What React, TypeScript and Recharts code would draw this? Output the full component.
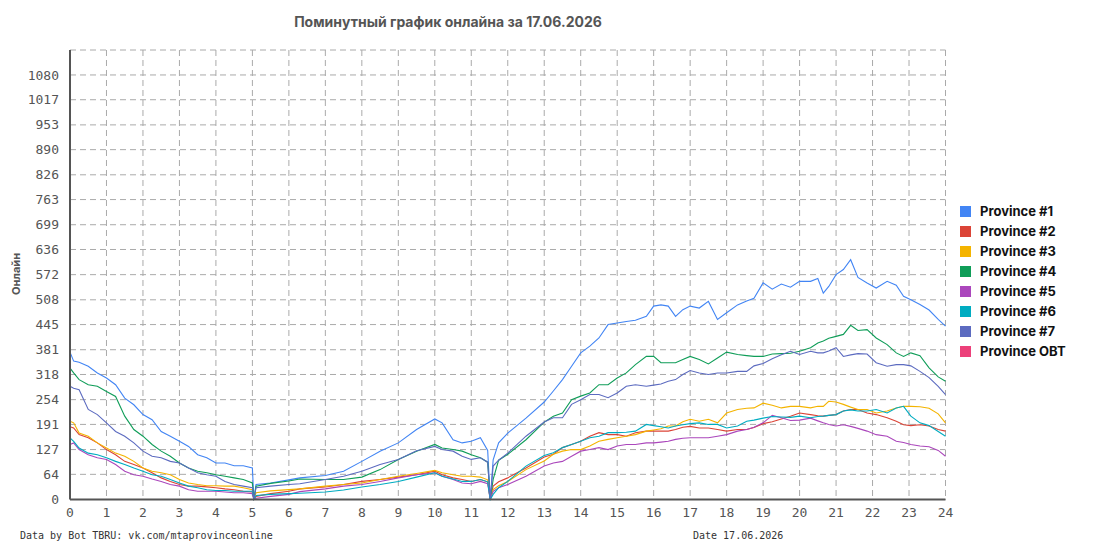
import React from "react";
import { LineChart, Line, XAxis, YAxis, CartesianGrid } from "recharts";

const hours = [0, 0.1, 0.25, 0.5, 0.75, 1, 1.25, 1.5, 1.75, 2, 2.25, 2.5, 2.75, 3, 3.25, 3.5, 3.75, 4, 4.25, 4.5, 4.75, 5,
  5.04, 5.1, 5.5, 6, 6.3,
  7, 7.5, 8, 8.5, 9, 9.5, 10, 10.2, 10.5, 10.75, 11, 11.25, 11.45, 11.52, 11.6, 11.75, 12, 12.5,
  13, 13.25, 13.5, 13.75, 14, 14.25, 14.5, 14.75, 15, 15.25, 15.5, 15.8,
  16, 16.2, 16.4, 16.6, 16.8, 17, 17.25, 17.5, 17.75, 18,
  18.3, 18.55, 18.75, 19, 19.25, 19.5, 19.75, 20,
  20.3, 20.5, 20.65, 20.8, 21, 21.2, 21.4, 21.6, 21.85, 22.1, 22.4, 22.65, 22.85, 23.05, 23.3, 23.55, 23.8, 24];

const province1 = [375, 352, 349, 339, 322, 309, 292, 258, 241, 216, 203, 173, 161, 148, 135, 114, 106, 93, 93, 86, 86, 80,
  0, 38, 42, 50, 55,
  61, 72, 97, 123, 144, 178, 205, 195, 152, 144, 148, 157, 125, 0, 101, 144, 169, 207,
  248, 276, 305, 339, 373, 390, 411, 445, 449, 453, 456, 466,
  492, 495, 492, 466, 483, 492, 487, 504, 458, 475,
  495, 505, 512, 551, 535, 548, 540, 555,
  555, 562, 525, 542, 572, 585, 610, 565, 551, 538, 555, 545, 517, 508, 496, 482, 458, 441];

const province2 = [185, 182, 165, 157, 144, 127, 114, 97, 89, 80, 68, 55, 46, 38, 34, 34, 32, 30, 27, 25, 21, 19,
  0, 8, 15, 21, 27,
  32, 38, 46, 51, 57, 63, 72, 63, 55, 51, 46, 51, 45, 0, 34, 45, 55, 80,
  108, 115, 132, 140, 148, 161, 170, 165, 165, 161, 170, 174,
  174, 174, 174, 178, 184, 186, 182, 182, 178, 174,
  178, 178, 183, 193, 198, 205, 212, 220,
  216, 213, 212, 214, 216, 225, 229, 229, 220, 216, 208, 199, 190, 188, 190, 187, 178, 174];

const province3 = [199, 195, 169, 161, 144, 131, 118, 110, 97, 80, 72, 68, 63, 51, 42, 38, 35, 35, 34, 34, 30, 25,
  0, 17, 22, 25, 27,
  34, 38, 42, 51, 59, 66, 74, 68, 63, 59, 59, 57, 50, 0, 25, 35, 46, 76,
  98, 115, 123, 127, 127, 136, 148, 153, 157, 161, 165, 174,
  177, 180, 187, 187, 198, 204, 199, 204, 195, 220,
  229, 232, 233, 245, 240, 233, 237, 237,
  233, 237, 237, 250, 248, 242, 235, 229, 229, 220, 225, 233, 237, 237, 236, 232, 218, 195];

const province4 = [334, 322, 305, 292, 288, 275, 262, 212, 178, 161, 140, 123, 110, 93, 80, 72, 68, 63, 59, 55, 51, 42,
  0, 34, 41, 47, 52,
  51, 51, 57, 76, 102, 123, 140, 131, 127, 123, 114, 106, 95, 0, 51, 100, 115, 152,
  197, 212, 220, 254, 263, 271, 292, 292, 309, 322, 343, 364,
  364, 348, 348, 348, 356, 364, 356, 345, 360, 375,
  369, 366, 364, 364, 370, 371, 372, 377,
  386, 398, 403, 410, 415, 420, 443, 430, 432, 411, 394, 373, 364, 373, 366, 335, 312, 301];

const province5 = [140, 144, 127, 114, 106, 102, 89, 72, 63, 59, 52, 46, 38, 34, 25, 21, 21, 21, 19, 17, 17, 15,
  0, 3, 8, 13, 20,
  27, 34, 38, 46, 55, 63, 68, 59, 51, 42, 40, 46, 40, 0, 21, 30, 38, 59,
  85, 93, 97, 110, 123, 127, 132, 127, 136, 140, 140, 144,
  144, 146, 148, 153, 156, 157, 157, 157, 161, 165,
  174, 178, 184, 195, 214, 208, 201, 202,
  207, 200, 195, 191, 187, 190, 186, 181, 174, 165, 161, 148, 145, 140, 136, 134, 125, 110];

const province6 = [157, 148, 131, 118, 114, 106, 97, 89, 80, 72, 63, 59, 51, 42, 34, 30, 25, 23, 23, 21, 21, 21,
  0, 10, 13, 15, 16,
  19, 24, 32, 38, 46, 57, 68, 59, 52, 46, 46, 51, 45, 0, 13, 30, 46, 85,
  112, 119, 132, 140, 148, 157, 161, 170, 170, 171, 174, 191,
  188, 185, 182, 187, 190, 193, 195, 191, 191, 182,
  187, 199, 202, 207, 211, 210, 209, 212,
  208, 211, 212, 214, 216, 225, 228, 225, 225, 229, 220, 233, 237, 212, 195, 188, 173, 161];

const province7 = [288, 283, 279, 229, 216, 195, 173, 161, 144, 123, 110, 106, 97, 93, 80, 68, 63, 59, 46, 38, 34, 30,
  0, 30, 34, 38, 40,
  51, 59, 72, 89, 102, 124, 135, 127, 123, 110, 102, 106, 95, 0, 85, 100, 118, 161,
  197, 208, 208, 242, 254, 267, 267, 259, 271, 288, 292, 288,
  291, 294, 301, 305, 318, 328, 322, 318, 322, 322,
  326, 326, 340, 346, 358, 368, 377, 369,
  377, 373, 373, 378, 386, 364, 368, 371, 370, 348, 339, 343, 343, 340, 326, 310, 288, 267];

const provinceOBT: (number | null)[] = [];

const yTicks = [0, 64, 127, 191, 254, 318, 381, 445, 508, 572, 636, 699, 763, 826, 890, 953, 1017, 1080];
const xTicks = [0, 1, 2, 3, 4, 5, 6, 7, 8, 9, 10, 11, 12, 13, 14, 15, 16, 17, 18, 19, 20, 21, 22, 23, 24];

const series = [
  { key: "p1", name: "Province #1", color: "#4285f4", values: province1 },
  { key: "p2", name: "Province #2", color: "#db4437", values: province2 },
  { key: "p3", name: "Province #3", color: "#f4b400", values: province3 },
  { key: "p4", name: "Province #4", color: "#0f9d58", values: province4 },
  { key: "p5", name: "Province #5", color: "#ab47bc", values: province5 },
  { key: "p6", name: "Province #6", color: "#00acc1", values: province6 },
  { key: "p7", name: "Province #7", color: "#5c6bc0", values: province7 },
  { key: "pobt", name: "Province OBT", color: "#ec407a", values: provinceOBT },
];

const data = hours.map((h, i) => {
  const row: Record<string, number | null> = { h };
  series.forEach((s) => {
    row[s.key] = s.values[i] ?? null;
  });
  return row;
});

const tickFont = { fontFamily: "'DejaVu Sans Mono', monospace", fontSize: 13, fill: "#555" };

export default function App() {
  return (
    <div style={{ position: "relative", width: 1080, height: 540, background: "#fff" }}>
      <LineChart
        width={1080}
        height={540}
        data={data}
        margin={{ top: 42, right: 142.5, bottom: 18.5, left: 0 }}
      >
        <CartesianGrid stroke="#aaa" strokeDasharray="6 4" />
        <XAxis
          dataKey="h"
          type="number"
          domain={[0, 24]}
          ticks={xTicks}
          interval={0}
          height={30}
          tickLine={false}
          tickSize={0}
          tickMargin={8}
          axisLine={{ stroke: "#555", strokeWidth: 2 }}
          tick={tickFont}
        />
        <XAxis
          xAxisId="top"
          orientation="top"
          dataKey="h"
          type="number"
          domain={[0, 24]}
          height={0}
          tick={false}
          tickLine={false}
          axisLine={{ stroke: "#555", strokeWidth: 1.5 }}
        />
        <YAxis
          type="number"
          domain={[0, 1143.5]}
          ticks={yTicks}
          interval={0}
          width={62}
          tickLine={false}
          tickSize={0}
          tickMargin={11}
          axisLine={{ stroke: "#555", strokeWidth: 2 }}
          tick={tickFont}
        />
        <YAxis
          yAxisId="right"
          orientation="right"
          type="number"
          domain={[0, 1143.5]}
          width={0}
          tick={false}
          tickLine={false}
          axisLine={{ stroke: "#555", strokeWidth: 1.5 }}
        />
        {series.map((s) => (
          <Line
            key={s.key}
            dataKey={s.key}
            name={s.name}
            stroke={s.color}
            strokeWidth={1.1}
            dot={false}
            type="linear"
            isAnimationActive={false}
            connectNulls={false}
          />
        ))}
      </LineChart>

      <div
        style={{
          position: "absolute",
          left: 440,
          top: 5,
          transform: "translateX(-50%)",
          whiteSpace: "nowrap",
          fontFamily: "Inter, 'Noto Sans', sans-serif",
          fontWeight: 700,
          fontSize: 14,
          color: "#555",
        }}
      >
        Поминутный график онлайна за 17.06.2026
      </div>

      <div
        style={{
          position: "absolute",
          left: 8,
          top: 266,
          transform: "translate(-50%, -50%) rotate(-90deg)",
          whiteSpace: "nowrap",
          fontFamily: "Inter, 'Noto Sans', sans-serif",
          fontWeight: 700,
          fontSize: 11,
          color: "#555",
        }}
      >
        Онлайн
      </div>

      <div style={{ position: "absolute", left: 952, top: 193 }}>
        {series.map((s) => (
          <div key={s.key} style={{ display: "flex", alignItems: "center", height: 20 }}>
            <div style={{ width: 11, height: 11, background: s.color, marginRight: 9 }} />
            <span
              style={{
                fontFamily: "Inter, 'Noto Sans', sans-serif",
                fontWeight: 700,
                fontSize: 13,
                color: "#111",
                whiteSpace: "nowrap",
              }}
            >
              {s.name}
            </span>
          </div>
        ))}
      </div>

      <div
        style={{
          position: "absolute",
          left: 12,
          top: 522,
          fontFamily: "'DejaVu Sans Mono', monospace",
          fontSize: 10,
          color: "#333",
          whiteSpace: "nowrap",
        }}
      >
        Data by Bot TBRU: vk.com/mtaprovinceonline
      </div>
      <div
        style={{
          position: "absolute",
          left: 685,
          top: 522,
          fontFamily: "'DejaVu Sans Mono', monospace",
          fontSize: 10,
          color: "#333",
          whiteSpace: "nowrap",
        }}
      >
        Date 17.06.2026
      </div>
    </div>
  );
}
